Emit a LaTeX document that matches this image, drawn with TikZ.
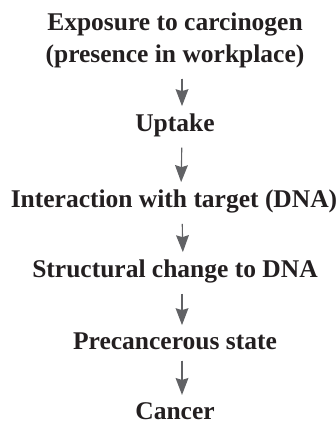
\documentclass[tikz,border=0pt]{standalone}
\usepackage{fontspec}
\setmainfont{Liberation Serif}
\usepackage{tikz}
\usetikzlibrary{arrows.meta, positioning}
\definecolor{FlowGray}{HTML}{616265}
\definecolor{TextBlack}{HTML}{231F20}
\tikzset{
  stage node/.style={inner sep=0pt, anchor=base, align=center, text=TextBlack,
                     font=\fontsize{25.5}{32}\selectfont\bfseries},
  flow edge/.style={-{Stealth[length=17pt, width=13pt, inset=2pt, line width=0pt]}, draw=FlowGray,
                    fill=FlowGray, line width=1.1pt, shorten <=11pt, shorten >=7pt},
}

\begin{document}
\begin{tikzpicture}[x=1pt, y=1pt]
  \useasboundingbox (0,0) rectangle (336,-423);
  \node[stage node] (expo) at (175,-62) {Exposure to carcinogen\\(presence in workplace)};
  \node[stage node] (uptk) at (175,-131) {Uptake};
  \node[stage node] (intr) at (174,-207) {Interaction with target (DNA)};
  \node[stage node] (strc) at (175,-277) {Structural change to DNA};
  \node[stage node] (prec) at (175,-349) {Precancerous state};
  \node[stage node] (canc) at (175,-419) {Cancer};
  \draw[flow edge] ([xshift=7pt]expo.south) -- ([xshift=7pt]uptk.north);
  \draw[flow edge] ([xshift=7pt]uptk.south) -- ([xshift=7pt]intr.north);
  \draw[flow edge] ([xshift=8pt]intr.south) -- ([xshift=8pt]strc.north);
  \draw[flow edge] ([xshift=7pt]strc.south) -- ([xshift=7pt]prec.north);
  \draw[flow edge] ([xshift=7pt]prec.south) -- ([xshift=7pt]canc.north);
\end{tikzpicture}
\end{document}
